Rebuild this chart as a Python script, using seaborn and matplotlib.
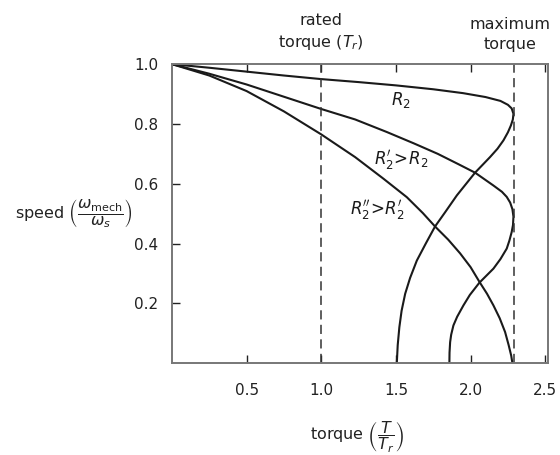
import matplotlib
matplotlib.use("Agg")
import matplotlib.pyplot as plt
import seaborn as sns
import pandas as pd

# Torque-speed characteristics for three rotor resistances (torque in units of T_r)
r2_torque = [0.0, 0.25, 0.5, 0.75, 1.0, 1.25, 1.5, 1.75, 1.95, 2.1, 2.2, 2.25, 2.275,
             2.287, 2.283, 2.27, 2.25, 2.22, 2.18, 2.13, 2.03, 1.908, 1.83, 1.762, 1.70,
             1.64, 1.595, 1.562, 1.538, 1.523, 1.512, 1.506]
r2_speed = [1.0, 0.988, 0.975, 0.962, 0.950, 0.940, 0.929, 0.916, 0.903, 0.890, 0.877,
            0.864, 0.852, 0.834, 0.815, 0.795, 0.772, 0.745, 0.717, 0.689, 0.637, 0.561,
            0.505, 0.457, 0.400, 0.343, 0.285, 0.232, 0.175, 0.120, 0.060, 0.0]

r2p_torque = [0.0, 0.25, 0.5, 0.75, 1.0, 1.227, 1.439, 1.62, 1.78, 1.92, 2.03, 2.153,
              2.21, 2.242, 2.265, 2.28, 2.287, 2.284, 2.275, 2.26, 2.242, 2.20, 2.153,
              2.059, 1.995, 1.952, 1.91, 1.885, 1.87, 1.863, 1.859, 1.858]
r2p_speed = [1.0, 0.968, 0.932, 0.891, 0.850, 0.815, 0.773, 0.735, 0.700, 0.665, 0.637,
             0.594, 0.573, 0.556, 0.537, 0.515, 0.490, 0.462, 0.438, 0.410, 0.383, 0.348,
             0.316, 0.269, 0.228, 0.193, 0.155, 0.126, 0.095, 0.070, 0.035, 0.0]

r2pp_torque = [0.0, 0.25, 0.5, 0.75, 1.0, 1.227, 1.416, 1.573, 1.68, 1.762, 1.85, 1.93,
               2.0, 2.059, 2.11, 2.153, 2.195, 2.231, 2.255, 2.272, 2.28]
r2pp_speed = [1.0, 0.962, 0.910, 0.842, 0.765, 0.689, 0.617, 0.555, 0.502, 0.457, 0.413,
              0.367, 0.321, 0.272, 0.232, 0.193, 0.150, 0.104, 0.060, 0.025, 0.0]

curve_names = ["R2", "R2p", "R2pp"]
curve_labels = [r"$R_2$", r"$R_2'\!>\!R_2$", r"$R_2''\!>\!R_2'$"]
label_pos = [(1.532, 0.879), (1.532, 0.681), (1.376, 0.511)]

rated_torque = 1.0
max_torque = 2.29

x_ticks = [0.5, 1.0, 1.5, 2.0, 2.5]
x_ticklabels = ["0.5", "1.0", "1.5", "2.0", "2.5"]
y_ticks = [0.2, 0.4, 0.6, 0.8, 1.0]
y_ticklabels = ["0.2", "0.4", "0.6", "0.8", "1.0"]

frames = []
for name, t, s in zip(curve_names,
                      [r2_torque, r2p_torque, r2pp_torque],
                      [r2_speed, r2p_speed, r2pp_speed]):
    d = pd.DataFrame({"torque": t, "speed": s})
    d["curve"] = name
    d["order"] = range(len(d))
    frames.append(d)
df = pd.concat(frames, ignore_index=True)

sns.set_style("ticks")
plt.rcParams["font.family"] = ["DejaVu Sans"]
plt.rcParams["mathtext.fontset"] = "dejavusans"

fig = plt.figure(figsize=(5.6, 4.55), dpi=100)
ax = fig.add_axes([0.307, 0.202, 0.672, 0.657])

for name in curve_names:
    sub = df[df["curve"] == name].sort_values("order")
    sns.lineplot(data=sub, x="torque", y="speed", sort=False, estimator=None,
                 color="#1a1a1a", lw=1.5, ax=ax, legend=False)
for line in ax.lines:
    line.set_solid_joinstyle("round")

ax.axvline(rated_torque, color="#333333", lw=1.1, ls=(0, (6, 3.5)))
ax.axvline(max_torque, color="#333333", lw=1.1, ls=(0, (6, 3.5)))

for txt, (x, y) in zip(curve_labels, label_pos):
    ax.text(x, y, txt, ha="center", va="center", fontsize=12, color="#1a1a1a")

ax.set_xlim(0, 2.52)
ax.set_ylim(0, 1.0)
ax.set_xticks(x_ticks)
ax.set_xticklabels(x_ticklabels)
ax.set_yticks(y_ticks)
ax.set_yticklabels(y_ticklabels)
ax.set_xlabel("")
ax.set_ylabel("")

ax.tick_params(axis="both", direction="in", length=6, width=1.0, color="#222222",
               labelsize=11, labelcolor="#222222")
ax.tick_params(axis="x", top=True, labeltop=False, pad=14)
ax.tick_params(axis="y", right=False, pad=10)

for side in ["left", "right", "top", "bottom"]:
    ax.spines[side].set_visible(True)
    ax.spines[side].set_color("#777777")
    ax.spines[side].set_linewidth(1.4)

# axis titles and top annotations
fig.text(357 / 560, 1 - 437 / 455, r"torque $\left(\dfrac{T}{T_r}\right)$",
         ha="center", va="center", fontsize=11.5, color="#222222")
fig.text(133 / 560, 1 - 214 / 455,
         r"speed $\left(\dfrac{\omega_{\mathrm{mech}}}{\omega_s}\right)$",
         ha="right", va="center", fontsize=11.5, color="#222222")
ax.annotate("rated\ntorque ($T_r$)", xy=(rated_torque, 1.0), xycoords="data",
            xytext=(0, 9), textcoords="offset points", ha="center", va="bottom",
            fontsize=11.5, color="#222222", linespacing=1.35)
ax.annotate("maximum\ntorque", xy=(max_torque, 1.0), xycoords="data",
            xytext=(-3, 9), textcoords="offset points", ha="center", va="bottom",
            fontsize=11.5, color="#222222", linespacing=1.35)

fig.savefig("out.png", dpi=100)
